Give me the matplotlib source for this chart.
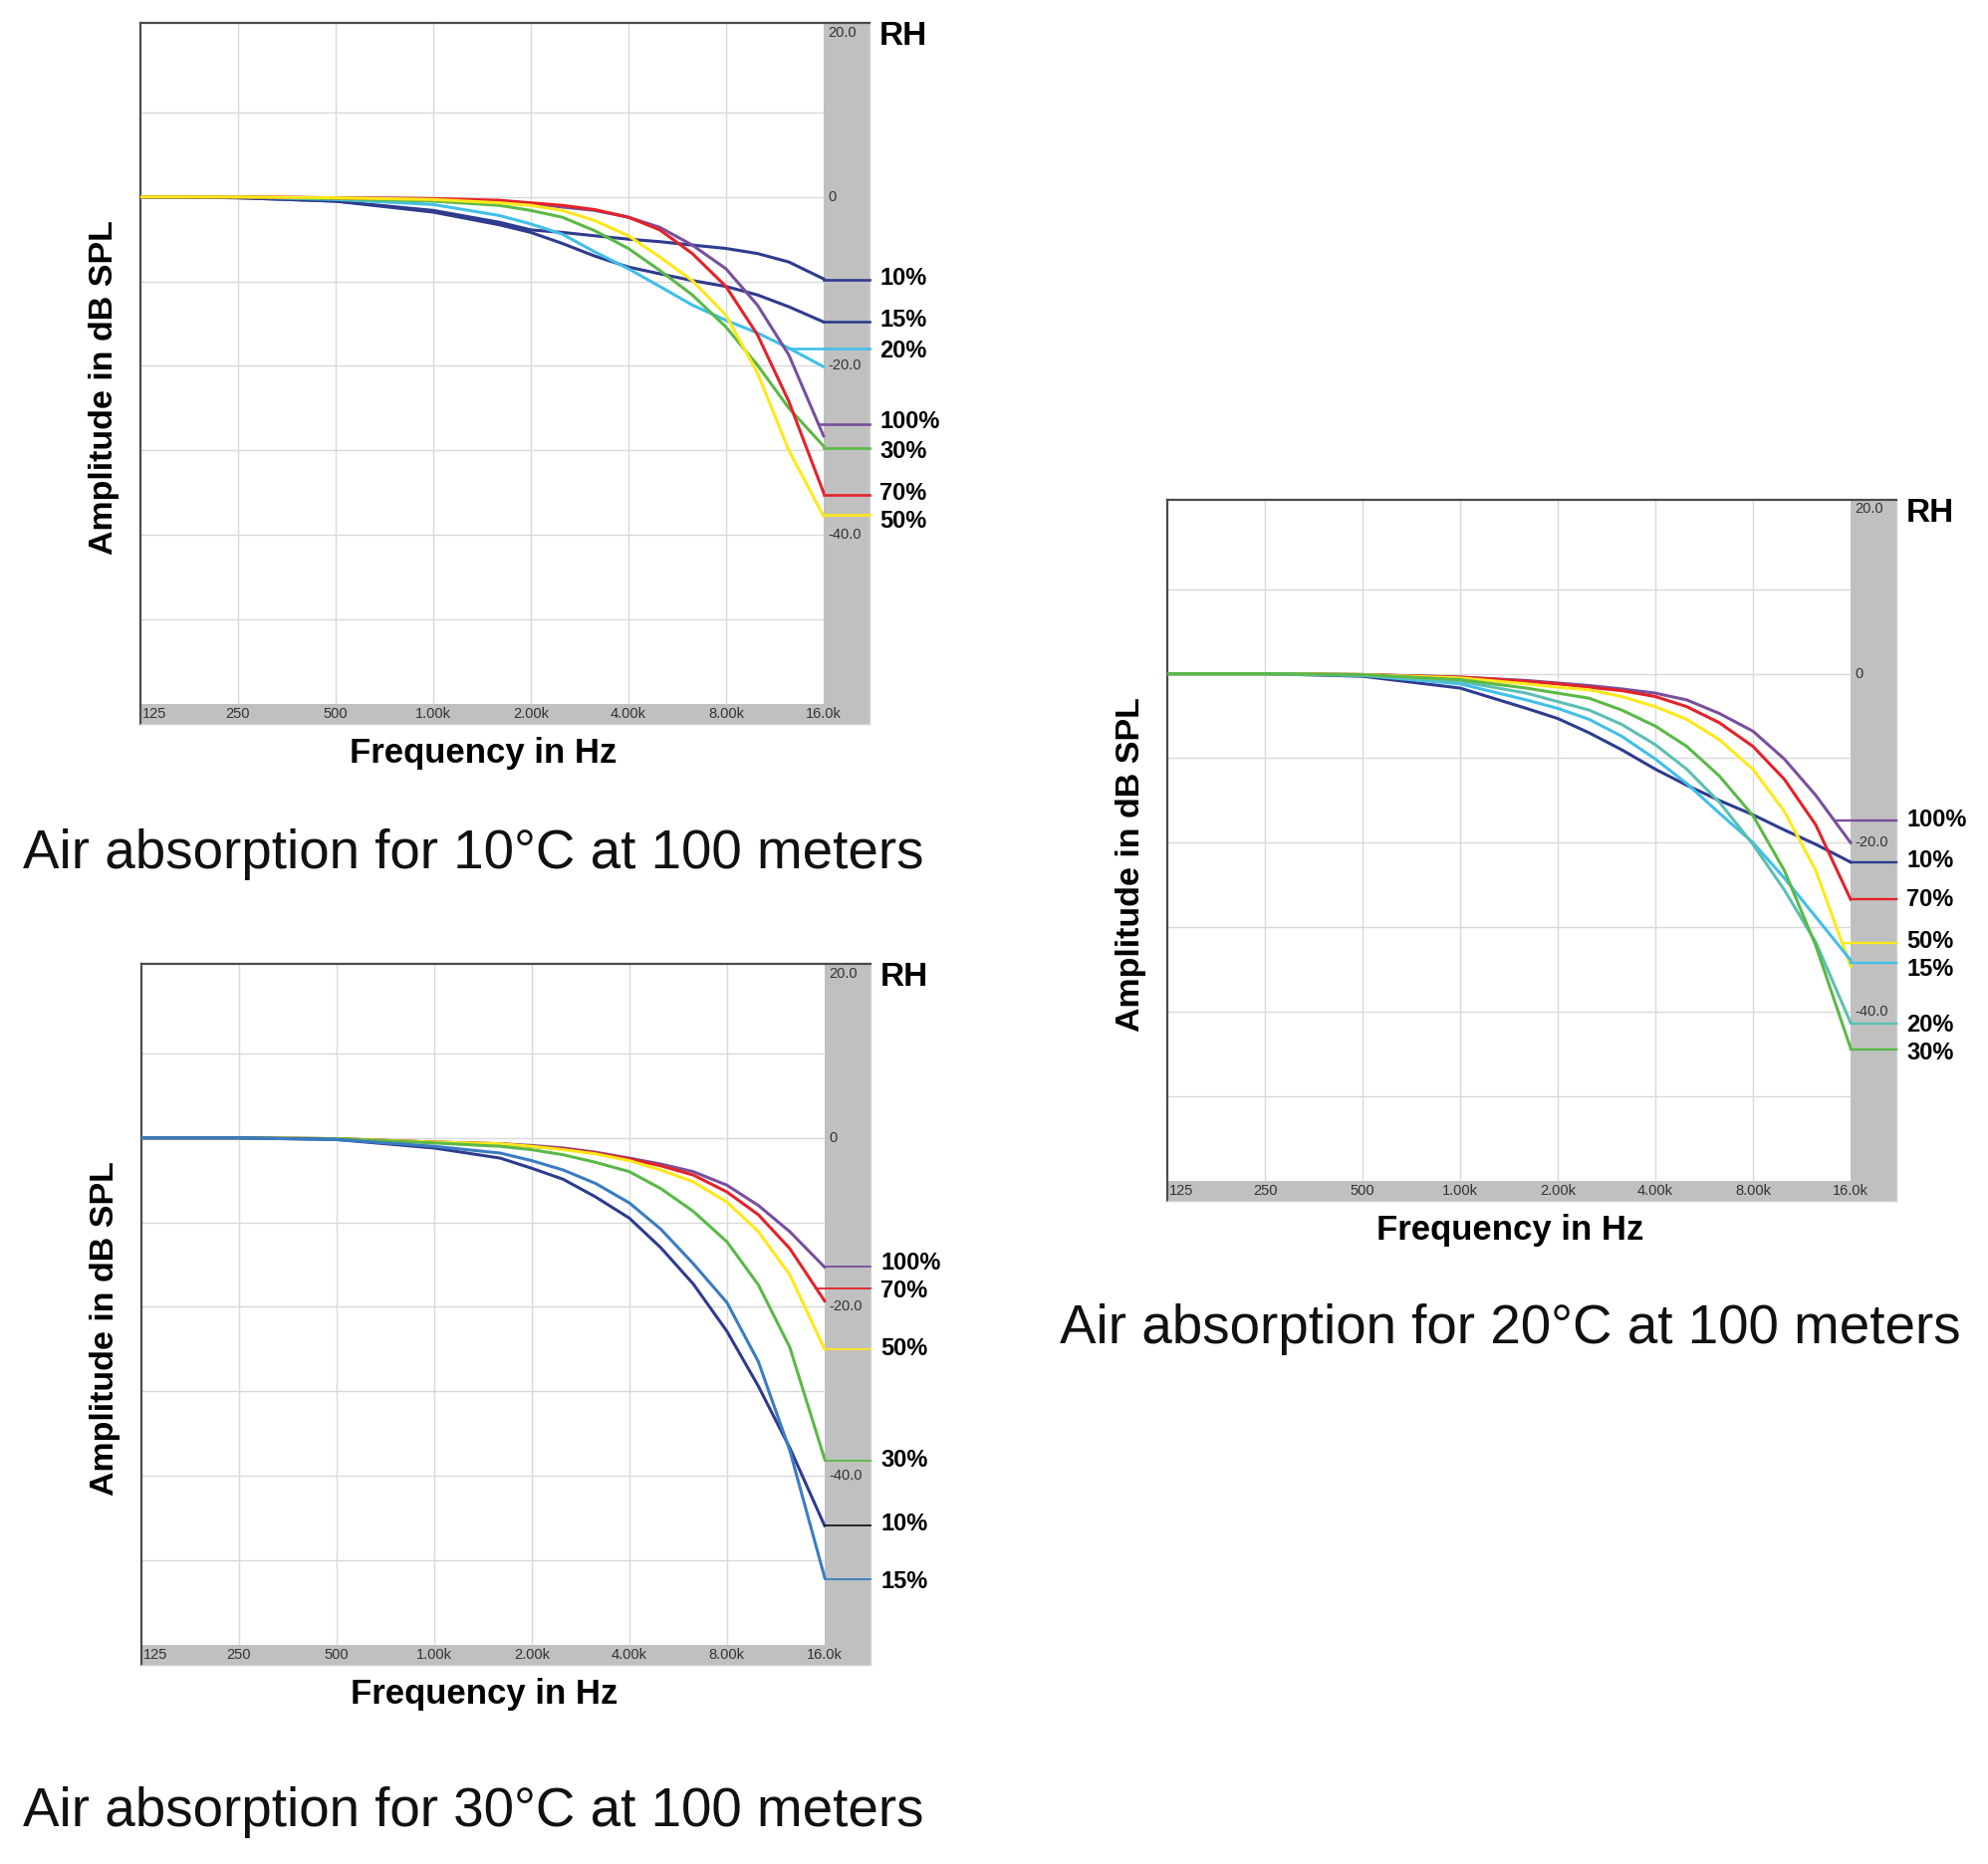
import matplotlib

matplotlib.use("Agg")
import matplotlib.pyplot as plt
import matplotlib.transforms as mtransforms
import numpy as np

# frequency points (Hz)
FREQ_HZ = [125, 250, 500, 1000, 1600, 2000, 2500, 3150, 4000, 5000, 6300, 8000, 10000, 12500, 16000]
GRID_HZ = [250, 500, 1000, 2000, 4000, 8000]
FREQ_TICKS = [125, 250, 500, 1000, 2000, 4000, 8000, 16000]
FREQ_TICK_LABELS = ["125", "250", "500", "1.00k", "2.00k", "4.00k", "8.00k", "16.0k"]
DB_TICKS = [20, 0, -20, -40]
DB_TICK_LABELS = ["20.0", "0", "-20.0", "-40.0"]

# 10 °C, 100 m (dB)
C10_RH10 = [0, -0.1, -0.5, -1.6, -3.0, -3.9, -4.2, -4.6, -5.0, -5.3, -5.7, -6.1, -6.7, -7.7, -9.7]
C10_RH15 = [0, -0.1, -0.5, -1.8, -3.3, -4.2, -5.5, -7.0, -8.3, -9.1, -9.9, -10.6, -11.6, -13.0, -14.8]
C10_RH20 = [0, 0, -0.3, -0.9, -2.2, -3.2, -4.4, -6.5, -8.5, -10.6, -12.8, -14.6, -16.1, -17.9, -20.1]
C10_RH30 = [0, 0, -0.2, -0.5, -1.0, -1.6, -2.4, -4.0, -6.1, -8.7, -11.6, -15.4, -19.9, -25.0, -29.5]
C10_RH50 = [0, 0, -0.1, -0.3, -0.7, -1.0, -1.6, -2.8, -4.6, -7.1, -9.9, -14.0, -20.8, -30.0, -37.8]
C10_RH70 = [0, 0, -0.1, -0.2, -0.4, -0.7, -1.0, -1.5, -2.4, -3.9, -6.7, -10.6, -16.3, -24.2, -35.0]
C10_RH100 = [0, 0, -0.1, -0.2, -0.6, -0.8, -1.2, -1.6, -2.4, -3.6, -5.7, -8.5, -12.8, -18.7, -28.3]
C10_LABELS = ["10%", "15%", "20%", "100%", "30%", "70%", "50%"]
C10_LEADER_DB = [-9.8, -14.8, -17.9, -26.9, -29.7, -35.3, -37.6]
C10_TEXT_DB = [-9.6, -14.6, -18.2, -26.6, -30.1, -35.1, -38.4]

# 20 °C, 100 m (dB)
C20_RH10 = [0, 0, -0.3, -1.7, -4.1, -5.3, -7.0, -9.0, -11.3, -13.2, -15.0, -16.7, -18.5, -20.2, -22.3]
C20_RH15 = [0, 0, -0.2, -1.2, -3.1, -4.1, -5.4, -7.4, -10.1, -13.0, -16.5, -20.0, -24.2, -28.8, -33.9]
C20_RH20 = [0, 0, -0.2, -0.9, -2.3, -3.3, -4.3, -6.0, -8.4, -11.3, -15.2, -20.2, -25.6, -31.8, -41.3]
C20_RH30 = [0, 0, -0.1, -0.7, -1.7, -2.3, -2.9, -4.3, -6.2, -8.6, -12.1, -16.8, -23.3, -32.2, -44.3]
C20_RH50 = [0, 0, -0.1, -0.5, -1.2, -1.6, -1.9, -2.7, -3.9, -5.4, -7.8, -11.3, -16.3, -23.3, -34.6]
C20_RH70 = [0, 0, -0.1, -0.4, -0.9, -1.2, -1.6, -2.0, -2.7, -3.9, -5.8, -8.6, -12.5, -17.9, -26.7]
C20_RH100 = [0, 0, -0.1, -0.4, -0.8, -1.1, -1.4, -1.8, -2.3, -3.1, -4.7, -6.8, -10.1, -14.4, -20.0]
C20_LABELS = ["100%", "10%", "70%", "50%", "15%", "20%", "30%"]
C20_LEADER_DB = [-17.4, -22.3, -26.7, -31.9, -34.2, -41.4, -44.5]
C20_TEXT_DB = [-17.3, -22.1, -26.8, -31.7, -35.0, -41.6, -44.9]

# 30 °C, 100 m (dB)
C30_RH10 = [0, 0, -0.2, -1.2, -2.4, -3.6, -4.9, -7.0, -9.5, -13.0, -17.3, -22.9, -29.4, -36.7, -45.9]
C30_RH15 = [0, 0, -0.2, -1.0, -1.8, -2.7, -3.8, -5.4, -7.7, -10.8, -14.9, -19.5, -26.5, -37.0, -52.0]
C30_RH30 = [0, 0, -0.1, -0.6, -1.0, -1.4, -2.0, -2.9, -4.0, -6.0, -8.7, -12.3, -17.4, -24.8, -38.0]
C30_RH50 = [0, 0, -0.1, -0.5, -0.7, -1.0, -1.4, -1.9, -2.7, -3.8, -5.2, -7.6, -11.1, -16.2, -25.0]
C30_RH70 = [0, 0, -0.1, -0.5, -0.7, -1.0, -1.3, -1.8, -2.5, -3.3, -4.4, -6.4, -9.1, -13.1, -19.3]
C30_RH100 = [0, 0, -0.1, -0.5, -0.7, -0.9, -1.2, -1.7, -2.4, -3.1, -4.0, -5.6, -8.0, -11.1, -15.3]
C30_LABELS = ["100%", "70%", "50%", "30%", "10%", "15%"]
C30_LEADER_DB = [-15.2, -17.8, -25.0, -38.2, -45.9, -52.2]
C30_TEXT_DB = [-14.8, -18.1, -25.0, -38.2, -45.7, -52.5]

PURPLE = "#7a4f9e"
RED = "#e42229"
YELLOW = "#ffe81a"
GREEN = "#5bb947"
CYAN = "#41bfe9"
NAVY = "#2f3b8f"
TEAL = "#5cbfb3"
BLUE = "#3a7cc2"
STRIP = "#c0c0c0"
GRID = "#d9d9d9"

X_MIN, X_MAX = 125, 22150
Y_MIN, Y_MAX = -62.4, 20.6

BOLD_FONT = ["Liberation Sans", "DejaVu Sans"]
REGULAR = ["Liberation Sans", "DejaVu Sans"]


def leader_start(values: list[float], level: float) -> float:
    v = np.asarray(values, dtype=float)
    below = np.nonzero(v <= level)[0]
    if len(below) == 0:
        return FREQ_HZ[-1]
    i = below[0]
    if i == 0:
        return FREQ_HZ[0]
    lf = np.log(FREQ_HZ)
    t = (v[i - 1] - level) / (v[i - 1] - v[i])
    return float(np.exp(lf[i - 1] + t * (lf[i] - lf[i - 1])))


def draw_panel(fig, rect, curves, colors, labels, leader_db, text_db, leader_colors, leader_lw,
               caption, caption_xy):
    ax = fig.add_axes(rect)
    ax.set_xscale("log")
    ax.set_xlim(X_MIN, X_MAX)
    ax.set_ylim(Y_MIN, Y_MAX)
    ax.set_xticks([])
    ax.set_xticks([], minor=True)
    ax.set_yticks([])

    ax.axvspan(16000, X_MAX, color=STRIP, lw=0, zorder=0)
    ax.axhspan(Y_MIN, -60, color=STRIP, lw=0, zorder=0)
    ax.vlines(GRID_HZ, -60, Y_MAX, color=GRID, lw=1.0, zorder=1)
    ax.hlines(np.arange(-50, 20, 10), X_MIN, 16000, color=GRID, lw=1.0, zorder=1)

    for side in ("left", "top"):
        ax.spines[side].set_color("#4a4a4a")
        ax.spines[side].set_linewidth(1.6)
    for side in ("right", "bottom"):
        ax.spines[side].set_color("#d0d0d0")
        ax.spines[side].set_linewidth(1.0)

    tick_style = dict(fontsize=10.5, color="#333333", family=REGULAR)
    for f, lab in zip(FREQ_TICKS, FREQ_TICK_LABELS):
        if f == FREQ_TICKS[0]:
            ax.text(f * 1.015, -61.2, lab, ha="left", va="center", **tick_style)
        else:
            ax.text(f, -61.2, lab, ha="center", va="center", **tick_style)
    for db, lab in zip(DB_TICKS, DB_TICK_LABELS):
        if db == DB_TICKS[0]:
            ax.text(16000 * 1.03, Y_MAX - 0.3, lab, ha="left", va="top", **tick_style)
        else:
            ax.text(16000 * 1.03, db, lab, ha="left", va="center", **tick_style)

    for values, color in zip(curves, colors):
        ax.plot(FREQ_HZ, values, color=color, lw=2.2, zorder=3, solid_joinstyle="round")

    trans = mtransforms.blended_transform_factory(ax.transAxes, ax.transData)
    for values, lab, level, ty, lc in zip(curves, labels, leader_db, text_db, leader_colors):
        start = leader_start(values, level)
        ax.plot([start, X_MAX], [level, level], color=lc, lw=leader_lw, zorder=3, clip_on=False)
        ax.text(1.014, ty, lab, transform=trans, ha="left", va="center",
                fontsize=17, fontweight="bold", family=BOLD_FONT)
    ax.text(1.014, 19.0, "RH", transform=trans, ha="left", va="center",
            fontsize=24, fontweight="bold", family=BOLD_FONT)

    ax.text(0.47, -0.042, "Frequency in Hz", transform=ax.transAxes, ha="center", va="center",
            fontsize=25, fontweight="bold", family=BOLD_FONT)
    ax.text(-0.05, 0.48, "Amplitude in dB SPL", transform=ax.transAxes, ha="center", va="center",
            rotation=90, fontsize=24.5, fontweight="bold", family=BOLD_FONT)

    fig.text(caption_xy[0], caption_xy[1], caption, ha="left", va="baseline",
             fontsize=39.4, family=REGULAR, color="#111111")
    return ax


def main() -> None:
    fig = plt.figure(figsize=(19.96, 18.72), dpi=100)
    fig.patch.set_facecolor("white")

    draw_panel(
        fig,
        [0.0706, 0.6116, 0.3667, 0.3761],
        [C10_RH10, C10_RH15, C10_RH20, C10_RH100, C10_RH30, C10_RH70, C10_RH50],
        [NAVY, NAVY, CYAN, PURPLE, GREEN, RED, YELLOW],
        C10_LABELS,
        C10_LEADER_DB,
        C10_TEXT_DB,
        [NAVY, NAVY, CYAN, PURPLE, GREEN, RED, YELLOW],
        1.9,
        "Air absorption for 10°C at 100 meters",
        (0.0115, 0.5342),
    )
    draw_panel(
        fig,
        [0.5872, 0.3558, 0.3667, 0.3761],
        [C20_RH100, C20_RH10, C20_RH70, C20_RH50, C20_RH15, C20_RH20, C20_RH30],
        [PURPLE, NAVY, RED, YELLOW, CYAN, TEAL, GREEN],
        C20_LABELS,
        C20_LEADER_DB,
        C20_TEXT_DB,
        [PURPLE, NAVY, RED, YELLOW, CYAN, TEAL, GREEN],
        1.7,
        "Air absorption for 20°C at 100 meters",
        (0.533, 0.2794),
    )
    draw_panel(
        fig,
        [0.0711, 0.1068, 0.3667, 0.3761],
        [C30_RH100, C30_RH70, C30_RH50, C30_RH30, C30_RH10, C30_RH15],
        [PURPLE, RED, YELLOW, GREEN, NAVY, BLUE],
        C30_LABELS,
        C30_LEADER_DB,
        C30_TEXT_DB,
        [PURPLE, RED, YELLOW, GREEN, "#1a1a1a", BLUE],
        1.3,
        "Air absorption for 30°C at 100 meters",
        (0.0115, 0.0203),
    )

    fig.savefig("out.png", dpi=100)
    plt.close(fig)


if __name__ == "__main__":
    main()
